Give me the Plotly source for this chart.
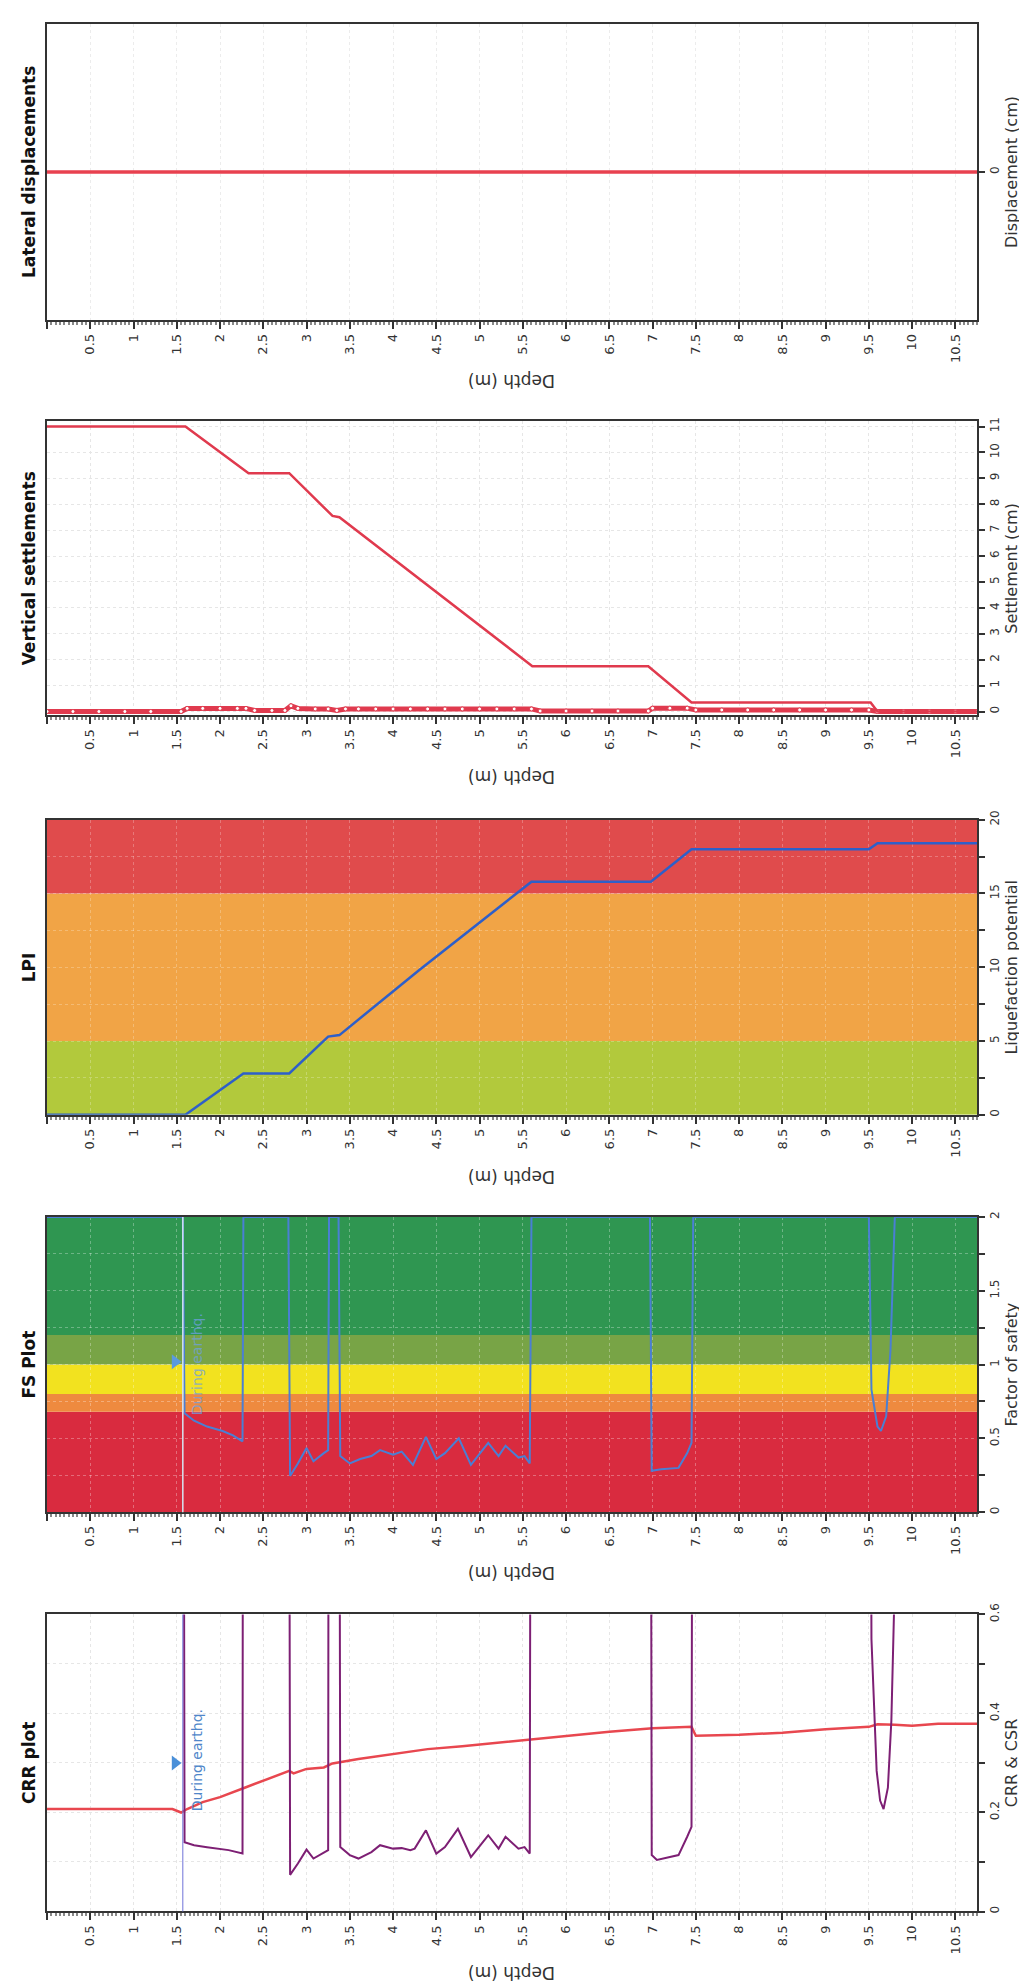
import plotly.graph_objects as go

# ---------------- data ----------------
depth_ticks = [0, 0.5, 1, 1.5, 2, 2.5, 3, 3.5, 4, 4.5, 5, 5.5, 6, 6.5, 7, 7.5, 8, 8.5, 9, 9.5, 10, 10.5]
depth_ticklabels = ["", "0.5", "1", "1.5", "2", "2.5", "3", "3.5", "4", "4.5", "5", "5.5",
                    "6", "6.5", "7", "7.5", "8", "8.5", "9", "9.5", "10", "10.5"]
depth_range = [0, 10.75]
water_table_depth = 1.57

# CRR plot: CSR (red) and CRR (purple); 2.0 = off chart (non-liquefiable)
csr_depth = [0.0, 1.45, 1.55, 1.62, 1.8, 2.0, 2.3, 2.6, 2.8, 2.85, 3.0, 3.2, 3.3, 3.6, 4.0, 4.4,
             4.8, 5.2, 5.6, 6.0, 6.5, 7.0, 7.45, 7.5, 8.0, 8.5, 9.0, 9.5, 9.6, 9.8, 10.0, 10.3, 10.75]
csr_value = [0.207, 0.207, 0.200, 0.207, 0.221, 0.231, 0.251, 0.271, 0.284, 0.279, 0.288, 0.291,
             0.299, 0.308, 0.318, 0.328, 0.334, 0.341, 0.348, 0.355, 0.363, 0.370, 0.373, 0.355,
             0.357, 0.361, 0.368, 0.373, 0.378, 0.377, 0.375, 0.379, 0.379]

crr_depth = [0.0, 1.57, 1.59, 1.7, 1.85, 2.0, 2.1, 2.26, 2.27, 2.79, 2.81, 2.9, 3.0, 3.08, 3.2,
             3.25, 3.26, 3.37, 3.39, 3.5, 3.6, 3.75, 3.85, 4.0, 4.1, 4.2, 4.25, 4.38, 4.5, 4.6,
             4.75, 4.9, 5.1, 5.22, 5.3, 5.45, 5.52, 5.58, 5.6, 6.97, 6.99, 7.05, 7.2, 7.3, 7.4,
             7.45, 7.47, 9.5, 9.53, 9.59, 9.63, 9.67, 9.72, 9.76, 9.79, 9.81, 10.75]
crr_value = [2.0, 2.0, 0.140, 0.134, 0.130, 0.127, 0.124, 0.117, 2.0, 2.0, 0.074, 0.097, 0.125,
             0.107, 0.120, 0.124, 2.0, 2.0, 0.130, 0.114, 0.107, 0.120, 0.134, 0.127, 0.128,
             0.124, 0.127, 0.164, 0.117, 0.130, 0.167, 0.110, 0.154, 0.127, 0.151, 0.127,
             0.130, 0.117, 2.0, 2.0, 0.114, 0.104, 0.110, 0.114, 0.151, 0.171, 2.0, 2.0, 0.55,
             0.284, 0.224, 0.207, 0.25, 0.385, 0.6, 2.0, 2.0]

# FS plot
fs_depth = [0.0, 1.57, 1.59, 1.7, 1.85, 2.03, 2.15, 2.26, 2.27, 2.79, 2.81, 2.9, 3.0, 3.08, 3.2,
            3.25, 3.26, 3.37, 3.39, 3.5, 3.62, 3.75, 3.85, 4.0, 4.1, 4.23, 4.38, 4.5, 4.6, 4.76,
            4.9, 5.1, 5.22, 5.3, 5.45, 5.52, 5.58, 5.6, 6.97, 6.99, 7.1, 7.3, 7.4, 7.45, 7.47,
            9.5, 9.53, 9.6, 9.64, 9.7, 9.75, 9.8, 10.75]
fs_value = [2.0, 2.0, 0.67, 0.62, 0.58, 0.55, 0.52, 0.48, 2.0, 2.0, 0.245, 0.33, 0.435, 0.345,
            0.40, 0.42, 2.0, 2.0, 0.38, 0.33, 0.36, 0.38, 0.42, 0.39, 0.41, 0.32, 0.51, 0.36,
            0.40, 0.50, 0.32, 0.47, 0.38, 0.45, 0.37, 0.38, 0.33, 2.0, 2.0, 0.28, 0.29, 0.30,
            0.40, 0.47, 2.0, 2.0, 0.83, 0.58, 0.55, 0.65, 1.1, 2.0, 2.0]
fs_band_low = [0.0, 0.68, 0.8, 1.0, 1.2]
fs_band_high = [0.68, 0.8, 1.0, 1.2, 2.0]
fs_band_color = ["#d92b3f", "#ee8a3f", "#f2e21f", "#78a446", "#2f9651"]

# LPI
lpi_depth = [0.0, 1.6, 2.27, 2.8, 3.25, 3.38, 4.3, 5.6, 6.98, 7.45, 9.5, 9.6, 10.75]
lpi_value = [0.0, 0.0, 2.8, 2.8, 5.3, 5.4, 9.8, 15.8, 15.8, 18.0, 18.0, 18.4, 18.4]
lpi_band_low = [0, 5, 15]
lpi_band_high = [5, 15, 20]
lpi_band_color = ["#b2c93c", "#f1a446", "#e04b4c"]

# Vertical settlements: cumulative and per-layer
set_depth = [0.0, 1.6, 2.33, 2.8, 3.3, 3.38, 5.61, 6.95, 7.45, 9.52, 9.6, 10.75]
set_value = [11.0, 11.0, 9.2, 9.2, 7.55, 7.5, 1.75, 1.75, 0.35, 0.35, 0.0, 0.0]
inc_depth = [0.0, 0.3, 0.6, 0.9, 1.2, 1.55, 1.62, 1.8, 2.0, 2.2, 2.3, 2.4, 2.6, 2.75, 2.82,
             2.9, 3.1, 3.25, 3.35, 3.45, 3.6, 3.8, 4.0, 4.2, 4.4, 4.6, 4.8, 5.0, 5.2, 5.4,
             5.6, 5.7, 6.0, 6.3, 6.6, 6.95, 7.0, 7.2, 7.4, 7.5, 7.8, 8.1, 8.4, 8.7, 9.0,
             9.3, 9.5, 9.6, 9.9, 10.2, 10.5, 10.75]
inc_value = [0.0, 0.0, 0.0, 0.0, 0.0, 0.0, 0.12, 0.12, 0.12, 0.12, 0.12, 0.04, 0.04, 0.04, 0.22,
             0.12, 0.10, 0.10, 0.04, 0.10, 0.10, 0.10, 0.10, 0.10, 0.10, 0.10, 0.10, 0.10, 0.10,
             0.10, 0.10, 0.02, 0.02, 0.02, 0.02, 0.02, 0.13, 0.13, 0.13, 0.06, 0.06, 0.06, 0.06,
             0.06, 0.06, 0.06, 0.06, 0.0, 0.0, 0.0, 0.0, 0.0]

# Lateral displacements
lat_depth = [0.0, 10.75]
lat_value = [0.0, 0.0]

crr_ticks = [0, 0.1, 0.2, 0.3, 0.4, 0.5, 0.6]
crr_ticklabels = ["0", "", "0.2", "", "0.4", "", "0.6"]
fs_ticks = [0, 0.25, 0.5, 0.75, 1, 1.25, 1.5, 1.75, 2]
fs_ticklabels = ["0", "", "0.5", "", "1", "", "1.5", "", "2"]
lpi_ticks = [0, 2.5, 5, 7.5, 10, 12.5, 15, 17.5, 20]
lpi_ticklabels = ["0", "", "5", "", "10", "", "15", "", "20"]
set_ticks = [0, 1, 2, 3, 4, 5, 6, 7, 8, 9, 10, 11]
set_ticklabels = ["0", "1", "2", "3", "4", "5", "6", "7", "8", "9", "10", "11"]
lat_ticks = [0]
lat_ticklabels = ["0"]

titles = ["CRR plot", "FS Plot", "LPI", "Vertical settlements", "Lateral displacements"]
value_titles = ["CRR & CSR", "Factor of safety", "Liquefaction potential",
                "Settlement (cm)", "Displacement (cm)"]

# ---------------- layout geometry ----------------
W, H = 1027, 1981
PL, PR = 39, 969
panel_px = [(1606, 1905), (1206, 1503), (806, 1103), (405, 701), (5, 303)]

FONT = "DejaVu Sans"
fig = go.Figure()

# traces
fig.add_trace(go.Scatter(x=csr_depth, y=csr_value, mode="lines",
                         line=dict(color="#e8474f", width=2.5), xaxis="x", yaxis="y"))
fig.add_trace(go.Scatter(x=crr_depth, y=crr_value, mode="lines",
                         line=dict(color="#7d1f74", width=2), xaxis="x", yaxis="y"))
fig.add_trace(go.Scatter(x=[water_table_depth - 0.09], y=[0.30], mode="markers",
                         marker=dict(symbol="triangle-right", size=13, color="#4a90d9"),
                         xaxis="x", yaxis="y"))

fig.add_trace(go.Scatter(x=fs_depth, y=fs_value, mode="lines",
                         line=dict(color="#4a7fd4", width=2), xaxis="x2", yaxis="y2"))
fig.add_trace(go.Scatter(x=[water_table_depth - 0.09], y=[1.02], mode="markers",
                         marker=dict(symbol="triangle-right", size=13, color="#5a9ae0"),
                         xaxis="x2", yaxis="y2"))

fig.add_trace(go.Scatter(x=lpi_depth, y=lpi_value, mode="lines",
                         line=dict(color="#2e5fc9", width=2.5), xaxis="x3", yaxis="y3"))

fig.add_trace(go.Scatter(x=inc_depth, y=inc_value, mode="lines+markers",
                         line=dict(color="#e03a4e", width=5),
                         marker=dict(symbol="circle", size=4, color="white",
                                     line=dict(color="#e03a4e", width=1)),
                         xaxis="x4", yaxis="y4"))
fig.add_trace(go.Scatter(x=set_depth, y=set_value, mode="lines",
                         line=dict(color="#e03a4e", width=2.5), xaxis="x4", yaxis="y4"))

fig.add_trace(go.Scatter(x=lat_depth, y=lat_value, mode="lines",
                         line=dict(color="#e8414f", width=3.5), xaxis="x5", yaxis="y5"))

# axes
vals = [(crr_ticks, crr_ticklabels, [0, 0.6]),
        (fs_ticks, fs_ticklabels, [0, 2]),
        (lpi_ticks, lpi_ticklabels, [0, 20]),
        (set_ticks, set_ticklabels, [-0.15, 11.2]),
        (lat_ticks, lat_ticklabels, [-1, 1])]
gridcols = ["#e6e6e6", "rgba(255,255,255,0.3)", "rgba(255,255,255,0.25)", "#e6e6e6", "#ececec"]

annotations = []
shapes = []
for i, ((top, bot), (tv, tt, rng)) in enumerate(zip(panel_px, vals)):
    n = "" if i == 0 else str(i + 1)
    ydom = [1 - bot / H, 1 - top / H]
    fig.layout["xaxis" + n] = dict(
        domain=[PL / W, PR / W], anchor="y" + n, range=depth_range,
        tickvals=depth_ticks, ticktext=depth_ticklabels, tickangle=-90,
        ticks="outside", ticklen=7, tickcolor="#333", tickwidth=1.5,
        tickfont=dict(family=FONT, size=13, color="#333"),
        showline=True, linecolor="#333", linewidth=1.5, mirror=True,
        showgrid=True, gridcolor=gridcols[i], griddash="dot", gridwidth=1,
        zeroline=False, fixedrange=True,
        minor=dict(dtick=0.05, ticklen=3, ticks="outside", tickcolor="#888", showgrid=False),
    )
    fig.layout["yaxis" + n] = dict(
        domain=ydom, anchor="x" + n, range=rng, side="right",
        tickvals=tv, ticktext=tt, tickangle=-90,
        ticks="outside", ticklen=6, tickcolor="#333", tickwidth=1.5,
        ticklabelstandoff=0,
        tickfont=dict(family=FONT, size=12, color="#333"),
        title=dict(text=value_titles[i], standoff=4,
                   font=dict(family=FONT, size=16, color="#333")),
        showline=True, linecolor="#333", linewidth=1.5, mirror=True,
        showgrid=True, gridcolor=gridcols[i], griddash="dot", gridwidth=1,
        zeroline=False, fixedrange=True,
    )
    ymid = 1 - (top + bot) / 2 / H
    annotations.append(dict(text="<b>%s</b>" % titles[i], x=21 / W, y=ymid,
                            xref="paper", yref="paper", showarrow=False, textangle=-90,
                            xanchor="center", yanchor="middle",
                            font=dict(family=FONT, size=17, color="#111")))
    annotations.append(dict(text="Depth (m)", x=(PL + PR) / 2 / W, y=1 - (bot + 62) / H,
                            xref="paper", yref="paper", showarrow=False, textangle=180,
                            xanchor="center", yanchor="middle",
                            font=dict(family=FONT, size=17, color="#333")))

# colour bands
for lo, hi, c in zip(fs_band_low, fs_band_high, fs_band_color):
    shapes.append(dict(type="rect", xref="x2 domain", yref="y2", x0=0, x1=1, y0=lo, y1=hi,
                       fillcolor=c, line=dict(width=0), layer="below"))
for lo, hi, c in zip(lpi_band_low, lpi_band_high, lpi_band_color):
    shapes.append(dict(type="rect", xref="x3 domain", yref="y3", x0=0, x1=1, y0=lo, y1=hi,
                       fillcolor=c, line=dict(width=0), layer="below"))

# water table lines
shapes.append(dict(type="line", xref="x", yref="y domain", x0=water_table_depth,
                   x1=water_table_depth, y0=0, y1=1, line=dict(color="#6f72d8", width=1)))
shapes.append(dict(type="line", xref="x2", yref="y2 domain", x0=water_table_depth,
                   x1=water_table_depth, y0=0, y1=1, line=dict(color="#d6e4f2", width=1.5)))

annotations.append(dict(text="During earthq.", x=water_table_depth + 0.16, y=0.305,
                        xref="x", yref="y", showarrow=False, textangle=-90,
                        xanchor="center", yanchor="middle",
                        font=dict(family=FONT, size=14, color="#4f86c9")))
annotations.append(dict(text="During earthq.", x=water_table_depth + 0.16, y=1.0,
                        xref="x2", yref="y2", showarrow=False, textangle=-90,
                        xanchor="center", yanchor="middle",
                        font=dict(family=FONT, size=14, color="rgba(110,160,225,0.75)")))

fig.update_layout(width=W, height=H, autosize=False,
                  margin=dict(l=0, r=0, t=0, b=0),
                  paper_bgcolor="white", plot_bgcolor="white",
                  showlegend=False, annotations=annotations, shapes=shapes)

fig.write_html("out.html")
